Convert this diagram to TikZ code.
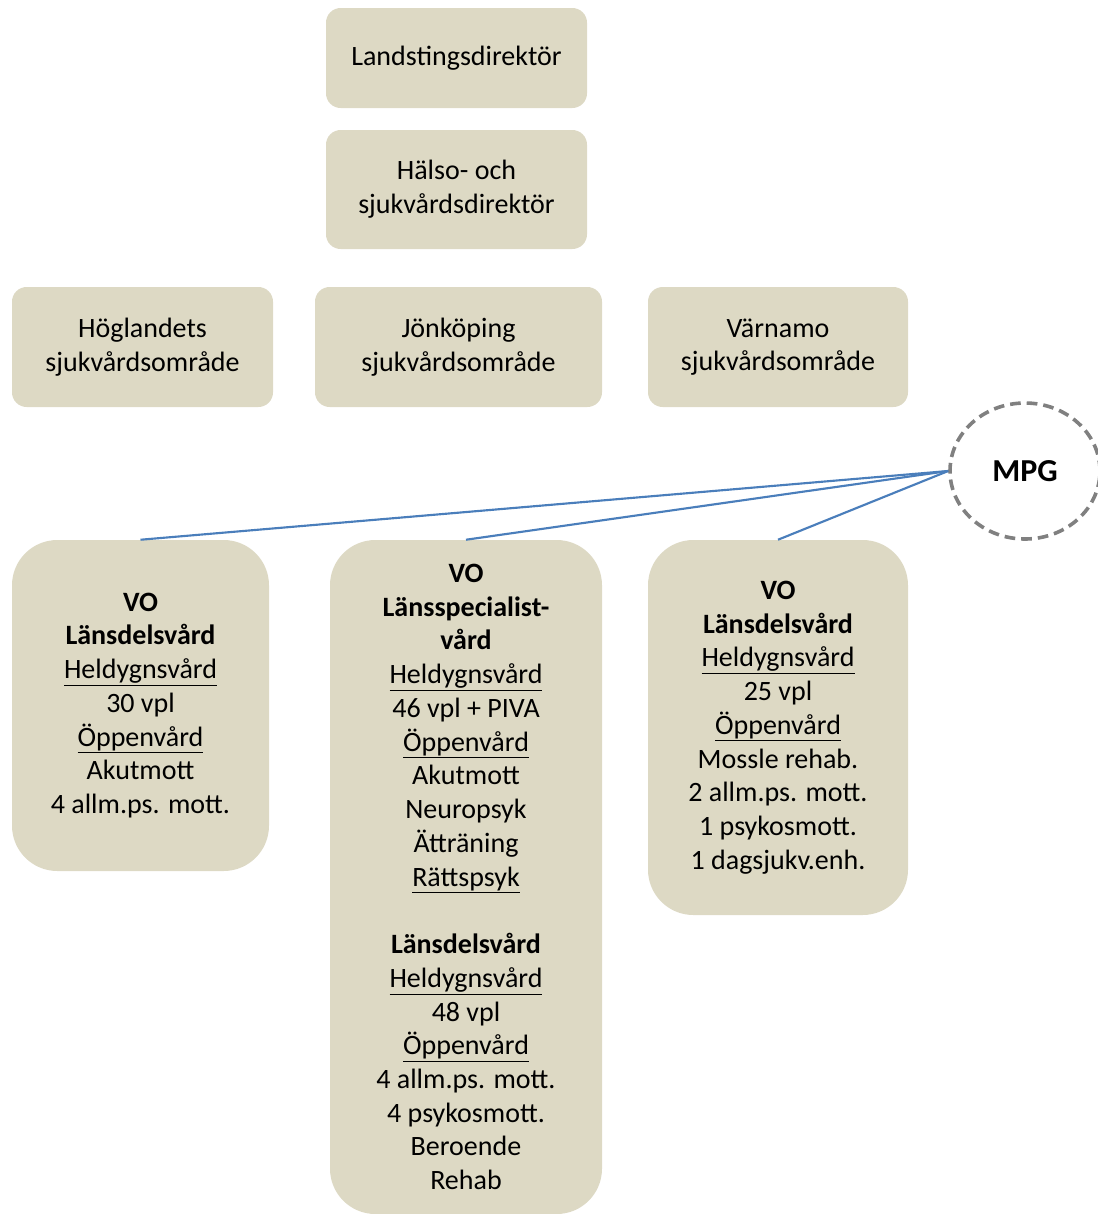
\documentclass[tikz,border=0pt]{standalone}
\usepackage{fontspec}
\setmainfont{Carlito}
\usetikzlibrary{shapes.geometric}
\definecolor{boxfill}{HTML}{DDD9C4}
\definecolor{linkblue}{HTML}{4A7EBB}
\definecolor{ringgray}{HTML}{808080}
\newcommand{\pxu}{0.75pt}
\tikzset{
    x=0.75pt,
    y=-0.75pt,
    unit/.style={
        fill=boxfill,
        rounded corners=11pt,
        align=center,
        inner sep=0pt,
        font=\fontsize{21}{25.3}\selectfont,
    },
    vounit/.style={
        unit,
        rounded corners=34pt,
    },
    group/.style={
        draw=ringgray,
        line width=2.7pt,
        dash pattern=on 8pt off 4.5pt,
        ellipse,
        minimum width=150*\pxu,
        minimum height=136*\pxu,
        font=\fontsize{24}{28}\selectfont\bfseries,
    },
    link/.style={
        draw=linkblue,
        line width=1.6pt,
    },
}
\newcommand{\ul}[1]{\underline{#1}}

\begin{document}
\begin{tikzpicture}
    \useasboundingbox (0,0) rectangle (1098,1214);

    % ledning
    \node[unit, minimum width=261*\pxu, minimum height=100*\pxu] (ltd) at (456.5,58) {Landstingsdirektör};
    \node[unit, minimum width=261*\pxu, minimum height=119*\pxu] (hsd) at (456.5,189.5) {Hälso- och\\sjukvårdsdirektör};

    % sjukvårdsområden
    \node[unit, minimum width=261*\pxu, minimum height=120*\pxu] (hog) at (142.5,347) {Höglandets\\sjukvårdsområde};
    \node[unit, minimum width=287*\pxu, minimum height=120*\pxu] (jkp) at (458.5,347) {Jönköping\\sjukvårdsområde};
    \node[unit, minimum width=260*\pxu, minimum height=120*\pxu] (var) at (778,347) {Värnamo\\sjukvårdsområde};

    \node[group] (mpg) at (1025,471) {MPG};

    % verksamhetsområden
    \node[vounit, minimum width=257*\pxu, minimum height=331*\pxu] (vohog) at (140.5,705.5) {%
        \textbf{VO}\\\textbf{Länsdelsvård}\\\ul{Heldygnsvård}\\30 vpl\\\ul{Öppenvård}\\Akutmott\\4 allm.ps. mott.};
    \node[vounit, minimum width=272*\pxu, minimum height=674*\pxu] (vojkp) at (466,877) {%
        \textbf{VO}\\\textbf{Länsspecialist-}\\\textbf{vård}\\\ul{Heldygnsvård}\\46 vpl + PIVA\\\ul{Öppenvård}\\Akutmott\\Neuropsyk\\Ätträning\\\ul{Rättspsyk}\\[25.3pt]
        \textbf{Länsdelsvård}\\\ul{Heldygnsvård}\\48 vpl\\\ul{Öppenvård}\\4 allm.ps. mott.\\4 psykosmott.\\Beroende\\Rehab};
    \node[vounit, minimum width=260*\pxu, minimum height=375*\pxu] (vovar) at (778,727.5) {%
        \textbf{VO}\\\textbf{Länsdelsvård}\\\ul{Heldygnsvård}\\25 vpl\\\ul{Öppenvård}\\Mossle rehab.\\2 allm.ps. mott.\\1 psykosmott.\\1 dagsjukv.enh.};

    \draw[link] (mpg.west) -- (vohog.north);
    \draw[link] (mpg.west) -- (vojkp.north);
    \draw[link] (mpg.west) -- (vovar.north);
\end{tikzpicture}
\end{document}
